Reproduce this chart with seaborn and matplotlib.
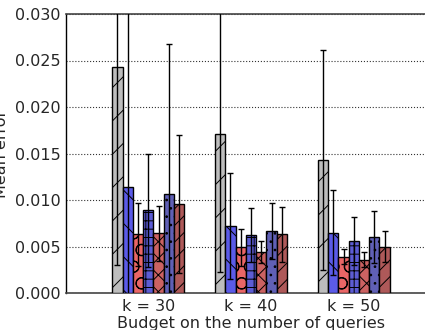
import matplotlib
matplotlib.use("Agg")
import matplotlib.pyplot as plt
import seaborn as sns
import pandas as pd
import numpy as np

budgets = ["k = 30", "k = 40", "k = 50"]
methods = ["M1", "M2", "M3", "M4", "M5", "M6", "M7"]
colors = ["#bdbdbd", "#4444ff", "#ff5050", "#4848e8", "#dc5050", "#5252c4", "#bc4b4b"]
hatches = ["/", "\\", "O", "++", "xx", "..", "//"]

# values per method, across budgets k=30,40,50
m1 = [0.0243, 0.0171, 0.0143]
m2 = [0.0114, 0.0072, 0.0065]
m3 = [0.0063, 0.0049, 0.0039]
m4 = [0.0089, 0.0062, 0.0056]
m5 = [0.0064, 0.0044, 0.0036]
m6 = [0.0106, 0.0067, 0.0060]
m7 = [0.0096, 0.0063, 0.0050]

e1 = [0.0213, 0.0148, 0.0118]
e2 = [0.0210, 0.0057, 0.0046]
e3 = [0.0034, 0.0020, 0.0008]
e4 = [0.0061, 0.0029, 0.0026]
e5 = [0.0030, 0.0012, 0.0008]
e6 = [0.0162, 0.0030, 0.0028]
e7 = [0.0074, 0.0030, 0.0017]

vals = [m1, m2, m3, m4, m5, m6, m7]
errs = [e1, e2, e3, e4, e5, e6, e7]

rows = []
for m, v, e in zip(methods, vals, errs):
    for b, vv, ee in zip(budgets, v, e):
        rows.append({"budget": b, "method": m, "value": vv, "err": ee})
df = pd.DataFrame(rows)

sns.set_theme(style="white")
plt.rcParams['font.family'] = ['DejaVu Sans']
plt.rcParams['hatch.linewidth'] = 0.7
plt.rcParams['hatch.color'] = 'black'

fig = plt.figure(figsize=(4.25, 3.3), dpi=100)
ax = fig.add_axes([66/425, 1-293/330, (436-66)/425, (293-14)/330])

sns.barplot(data=df, x="budget", y="value", hue="method", order=budgets,
            hue_order=methods, palette=colors, width=0.7, errorbar=None,
            edgecolor="black", linewidth=1, legend=False, ax=ax, zorder=3)

for i, m in enumerate(methods):
    cont = ax.containers[i]
    xs = []
    for bar in cont:
        bar.set_hatch(hatches[i])
        xs.append(bar.get_x() + bar.get_width() / 2)
    sub = df[df.method == m].set_index("budget").loc[budgets]
    ax.errorbar(xs, sub["value"].values, yerr=sub["err"].values, fmt="none",
                ecolor="black", elinewidth=1, capsize=2.5, capthick=1, zorder=4)

ax.set_ylim(0, 0.030)
ax.set_xlim(-0.8, 2.8)
ax.set_yticks([0, 0.005, 0.010, 0.015, 0.020, 0.025, 0.030])
ax.set_yticklabels(["0.000", "0.005", "0.010", "0.015", "0.020", "0.025", "0.030"])
ax.yaxis.grid(True, linestyle=":", color="#333333", linewidth=0.8)
ax.set_axisbelow(True)
ax.tick_params(axis="both", labelsize=11.5, length=0, pad=4)
ax.set_xlabel("Budget on the number of queries", fontsize=11.5, labelpad=2)
ax.set_ylabel("Mean error", fontsize=11.5)
for s in ax.spines.values():
    s.set_color("#444444")
    s.set_linewidth(1.2)
ax.spines["left"].set_color("black")
ax.spines["left"].set_linewidth(1)

fig.savefig("out.png", dpi=100)
